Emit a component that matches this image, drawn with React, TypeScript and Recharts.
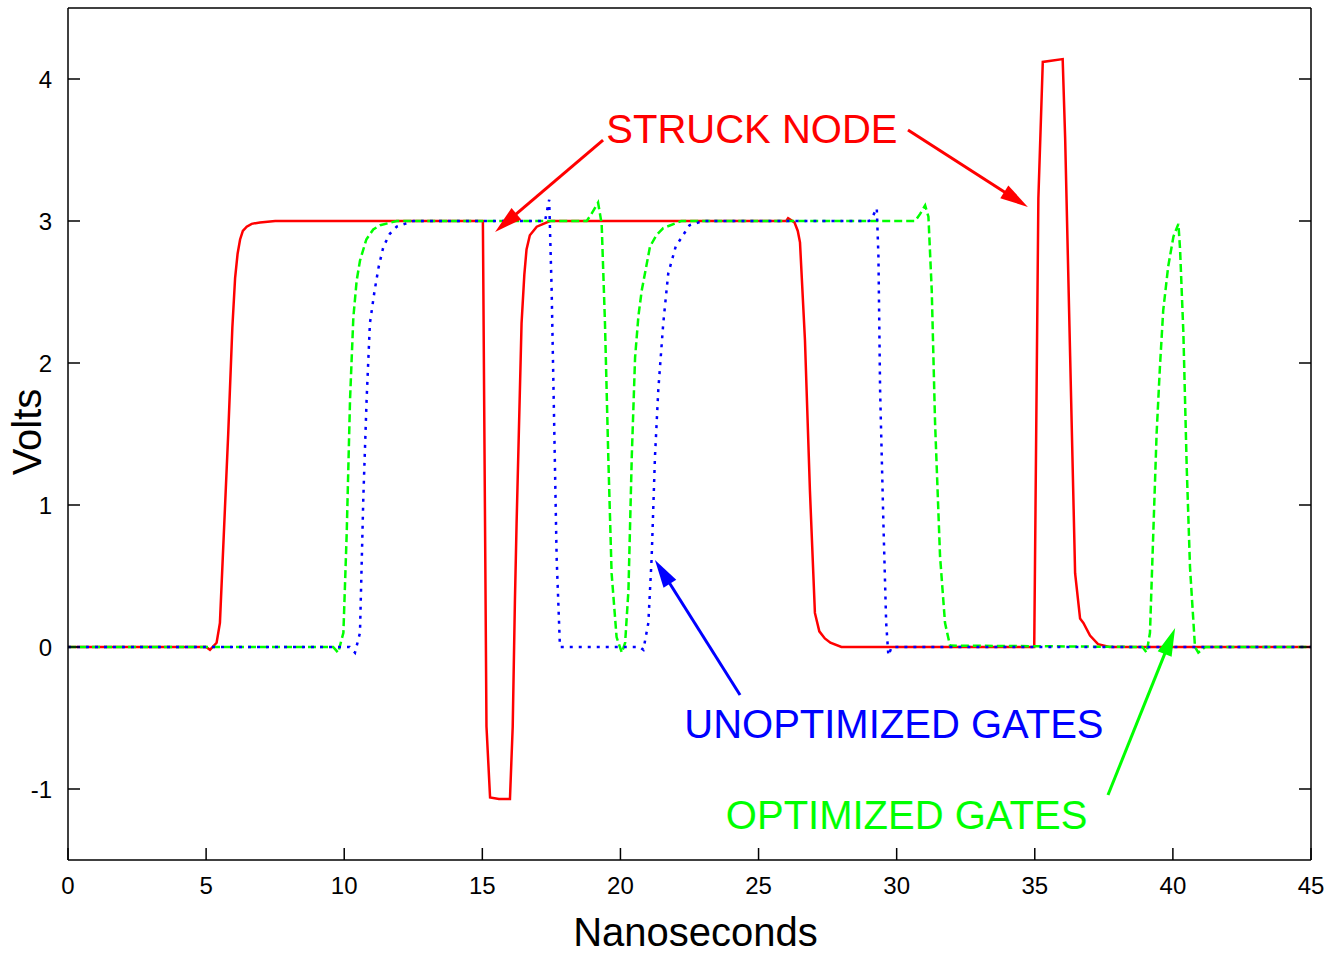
import React from 'react';
import { LineChart, Line, XAxis, YAxis, ReferenceLine, ReferenceDot } from 'recharts';

// time axis (ns) and volt ticks
const xTicks = [0, 5, 10, 15, 20, 25, 30, 35, 40, 45];
const yTicks = [-1, 0, 1, 2, 3, 4];

// STRUCK NODE (red, solid)
const struckT = [0, 5.0, 5.14, 5.38, 5.5, 5.8, 5.95, 6.05, 6.14, 6.23, 6.33, 6.47, 6.65, 6.95, 7.5, 15.02, 15.15, 15.28, 15.6, 16.0, 16.1, 16.18, 16.24, 16.42, 16.52, 16.6, 16.72, 16.97, 17.45, 26.0, 26.07, 26.3, 26.42, 26.5, 26.68, 26.86, 27.04, 27.2, 27.4, 27.6, 28.0, 34.98, 35.13, 35.29, 36.01, 36.1, 36.28, 36.46, 36.64, 36.76, 37.0, 37.29, 37.7, 45];
const struckV = [0, 0, -0.02, 0.03, 0.17, 1.5, 2.25, 2.6, 2.77, 2.87, 2.93, 2.96, 2.98, 2.99, 3.0, 3.0, -0.56, -1.06, -1.07, -1.07, -0.56, 0.33, 0.87, 2.28, 2.62, 2.8, 2.9, 2.96, 3.0, 3.0, 3.02, 2.99, 2.93, 2.85, 2.16, 1.1, 0.24, 0.11, 0.06, 0.03, 0, 0, 3.16, 4.12, 4.14, 3.58, 2.05, 0.52, 0.2, 0.17, 0.08, 0.02, 0, 0];

// OPTIMIZED GATES (green, dashed)
const optT = [0, 9.6, 9.78, 9.97, 10.09, 10.21, 10.33, 10.45, 10.57, 10.8, 11.05, 11.3, 11.9, 18.78, 18.95, 19.19, 19.32, 19.44, 19.56, 19.68, 19.86, 20.05, 20.17, 20.29, 20.41, 20.53, 20.65, 20.77, 21.07, 21.3, 21.55, 22.2, 30.67, 30.85, 31.03, 31.15, 31.27, 31.39, 31.57, 31.75, 31.93, 38.9, 39.05, 39.17, 39.29, 39.41, 39.53, 39.65, 39.83, 40.02, 40.2, 40.26, 40.38, 40.5, 40.62, 40.8, 40.92, 41.17, 45];
const optV = [0, 0, -0.04, 0.1, 0.8, 1.74, 2.32, 2.58, 2.72, 2.87, 2.94, 2.97, 3.0, 3.0, 3.05, 3.13, 2.98, 2.28, 1.34, 0.52, 0.07, -0.04, 0.03, 0.4, 1.34, 2.04, 2.33, 2.51, 2.82, 2.9, 2.95, 3.0, 3.0, 3.05, 3.11, 3.03, 2.51, 1.58, 0.64, 0.17, 0.01, 0, -0.04, 0.1, 0.8, 1.5, 1.97, 2.37, 2.68, 2.89, 2.98, 2.8, 2.21, 1.27, 0.56, 0, -0.04, 0, 0];

// UNOPTIMIZED GATES (blue, dotted)
const unoptT = [0, 10.2, 10.39, 10.57, 10.69, 10.81, 10.93, 11.1, 11.25, 11.42, 11.65, 11.9, 12.5, 17.27, 17.33, 17.42, 17.51, 17.6, 17.69, 17.81, 20.7, 20.83, 21.01, 21.13, 21.25, 21.37, 21.55, 21.73, 22.0, 22.5, 23.0, 29.0, 29.1, 29.28, 29.34, 29.4, 29.52, 29.62, 29.7, 29.82, 45];
const unoptV = [0, 0, -0.04, 0.1, 1.04, 1.74, 2.28, 2.51, 2.68, 2.82, 2.91, 2.96, 3.0, 3.0, 3.06, 3.15, 2.51, 1.58, 0.63, 0, 0, -0.02, 0.17, 0.63, 1.34, 1.81, 2.28, 2.63, 2.82, 2.97, 3.0, 3.0, 3.02, 3.09, 2.75, 1.81, 0.87, 0.17, -0.06, 0, 0];

const toPoints = (ts: number[], vs: number[]) => ts.map((t, i) => ({ t, v: vs[i] }));

const struck = toPoints(struckT, struckV);
const opt = toPoints(optT, optV);
const unopt = toPoints(unoptT, unoptV);

const FONT = '"Liberation Sans", Arial, Helvetica, sans-serif';
const RED = '#ff0000';
const GREEN = '#00ff00';
const BLUE = '#0000ff';

const arrow = (color: string) => (props: any) => {
  const { x1, y1, x2, y2 } = props;
  const dx = x2 - x1;
  const dy = y2 - y1;
  const len = Math.hypot(dx, dy) || 1;
  const ux = dx / len;
  const uy = dy / len;
  const head = 28;
  const half = 7.5;
  const bx = x2 - ux * head;
  const by = y2 - uy * head;
  return (
    <g>
      <line x1={x1} y1={y1} x2={bx + ux * 2} y2={by + uy * 2} stroke={color} strokeWidth={3} />
      <polygon
        points={`${x2},${y2} ${bx - uy * half},${by + ux * half} ${bx + uy * half},${by - ux * half}`}
        fill={color}
      />
    </g>
  );
};

const note = (text: string, color: string) => (props: any) => (
  <text
    x={props.cx}
    y={props.cy}
    textAnchor="middle"
    dominantBaseline="central"
    fontSize={40}
    fontFamily={FONT}
    fill={color}
  >
    {text}
  </text>
);

const axisStroke = { stroke: '#000', strokeWidth: 1.5 };
const tickStyle = { fill: '#000', fontSize: 24, fontFamily: FONT };
// mirrored axes: keep the tick marks, drop the numbers
const noLabel = () => <g />;

export default function App() {
  return (
    <div style={{ position: 'absolute', left: 0, top: 0, width: 1335, height: 953, background: '#fff' }}>
      <LineChart width={1335} height={953} margin={{ top: 7, right: 23, bottom: 0, left: 8 }}>
        <XAxis
          dataKey="t"
          type="number"
          domain={[0, 45]}
          ticks={xTicks}
          interval={0}
          height={93}
          tickSize={-12}
          tickMargin={29}
          axisLine={axisStroke}
          tickLine={axisStroke}
          tick={tickStyle}
          allowDataOverflow
          label={{
            content: (p: any) => {
              const vb = p.viewBox;
              return (
                <text
                  x={vb.x + vb.width / 2 + 6}
                  y={vb.y + 72}
                  textAnchor="middle"
                  dominantBaseline="central"
                  fontSize={40}
                  fontFamily={FONT}
                  fill="#000"
                >
                  Nanoseconds
                </text>
              );
            },
          }}
        />
        <XAxis
          xAxisId="top"
          orientation="top"
          type="number"
          domain={[0, 45]}
          ticks={xTicks}
          interval={0}
          height={1}
          tickSize={-12}
          tick={noLabel}
          axisLine={axisStroke}
          tickLine={axisStroke}
          allowDataOverflow
        />
        <YAxis
          type="number"
          domain={[-1.5, 4.5]}
          ticks={yTicks}
          interval={0}
          width={60}
          tickSize={-12}
          tickMargin={28}
          axisLine={axisStroke}
          tickLine={axisStroke}
          tick={tickStyle}
          allowDataOverflow
          label={{
            content: (p: any) => {
              const vb = p.viewBox;
              const cx = vb.x + 19;
              const cy = vb.y + vb.height / 2 - 2;
              return (
                <text
                  x={cx}
                  y={cy}
                  transform={`rotate(-90 ${cx} ${cy})`}
                  textAnchor="middle"
                  dominantBaseline="central"
                  fontSize={40}
                  fontFamily={FONT}
                  fill="#000"
                >
                  Volts
                </text>
              );
            },
          }}
        />
        <YAxis
          yAxisId="right"
          orientation="right"
          type="number"
          domain={[-1.5, 4.5]}
          ticks={yTicks}
          interval={0}
          width={1}
          tickSize={-12}
          tick={noLabel}
          axisLine={axisStroke}
          tickLine={axisStroke}
          allowDataOverflow
        />

        <Line data={struck} dataKey="v" type="linear" stroke={RED} strokeWidth={2.5} dot={false} isAnimationActive={false} />
        <Line data={opt} dataKey="v" type="linear" stroke={GREEN} strokeWidth={2.5} strokeDasharray="8 4" dot={false} isAnimationActive={false} />
        <Line data={unopt} dataKey="v" type="linear" stroke={BLUE} strokeWidth={2.5} strokeDasharray="3 6" dot={false} isAnimationActive={false} />

        <ReferenceLine segment={[{ x: 19.37, y: 3.57 }, { x: 15.46, y: 2.923 }]} ifOverflow="visible" shape={arrow(RED)} />
        <ReferenceLine segment={[{ x: 30.41, y: 3.641 }, { x: 34.75, y: 3.099 }]} ifOverflow="visible" shape={arrow(RED)} />
        <ReferenceLine segment={[{ x: 24.33, y: -0.338 }, { x: 21.25, y: 0.613 }]} ifOverflow="visible" shape={arrow(BLUE)} />
        <ReferenceLine segment={[{ x: 37.65, y: -1.042 }, { x: 40.08, y: 0.134 }]} ifOverflow="visible" shape={arrow(GREEN)} />

        <ReferenceDot x={24.76} y={3.648} r={0} ifOverflow="visible" shape={note('STRUCK NODE', RED)} />
        <ReferenceDot x={29.9} y={-0.542} r={0} ifOverflow="visible" shape={note('UNOPTIMIZED GATES', BLUE)} />
        <ReferenceDot x={30.36} y={-1.183} r={0} ifOverflow="visible" shape={note('OPTIMIZED GATES', GREEN)} />
      </LineChart>
    </div>
  );
}
